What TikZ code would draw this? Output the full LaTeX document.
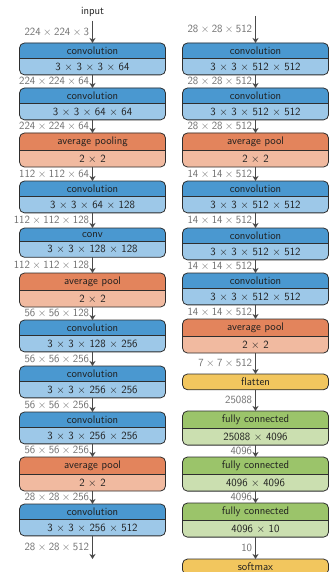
\documentclass[tikz,border=0pt]{standalone}
\usepackage{fontspec}
\usetikzlibrary{arrows.meta,backgrounds}
\definecolor{convH}{HTML}{4A98D0}
\definecolor{convB}{HTML}{9DC8E8}
\definecolor{poolH}{HTML}{E3845C}
\definecolor{poolB}{HTML}{F1BAA0}
\definecolor{fcH}{HTML}{9BC46A}
\definecolor{fcB}{HTML}{CBDFB0}
\definecolor{yel}{HTML}{F2C65E}
\definecolor{edgecol}{HTML}{2E2E2E}
\definecolor{lblcol}{HTML}{6E6E6E}
\definecolor{arrcol}{HTML}{4A4A4A}
\newcommand{\tm}{${}\times{}$}
\tikzset{
  part/.style={minimum width=146pt, inner xsep=0pt, inner ysep=3.95pt, outer sep=0pt,
    font=\fontsize{11}{13}\selectfont\sffamily, text=black!88},
  boxline/.style={draw=edgecol, line width=0.8pt},
  single/.style={part, boxline, rounded corners=5pt},
  lbl/.style={left, inner sep=3pt, font=\fontsize{11}{13}\selectfont\sffamily, text=lblcol},
  flow/.style={draw=arrcol, line width=0.8pt, -{Stealth[length=5pt,width=6pt,inset=1.5pt]}}
}
\newcommand{\blk}[7]{%
  \node[part, anchor=north] (#1h) at (#2,#3) {#4};
  \node[part, anchor=north] (#1) at (#1h.south) {#5};
  \begin{pgfonlayer}{background}
    \fill[#7, rounded corners=5pt] (#1h.north west) rectangle (#1.south east);
    \begin{scope}
      \clip (#1h.north west) rectangle (#1h.south east);
      \fill[#6, rounded corners=5pt] (#1h.north west) rectangle (#1.south east);
    \end{scope}
  \end{pgfonlayer}
  \draw[boxline, rounded corners=5pt] (#1h.north west) rectangle (#1.south east);
  \draw[boxline] (#1h.south west) -- (#1h.south east);
}
\begin{document}
\begin{tikzpicture}[x=1pt,y=-1pt]
\useasboundingbox (0,0) rectangle (329,572);
% left column
\node[part, text=black!88] (in) at (92.5,12) {input};
\blk{L1}{92.5}{43}{convolution}{3 $\times$ 3 $\times$ 3 $\times$ 64}{convH}{convB}
\blk{L2}{92.5}{88}{convolution}{3 $\times$ 3 $\times$ 64 $\times$ 64}{convH}{convB}
\blk{L3}{92.5}{133}{average pooling}{2 $\times$ 2}{poolH}{poolB}
\blk{L4}{92.5}{181}{convolution}{3 $\times$ 3 $\times$ 64 $\times$ 128}{convH}{convB}
\blk{L5}{92.5}{228}{conv}{3 $\times$ 3 $\times$ 128 $\times$ 128}{convH}{convB}
\blk{L6}{92.5}{273}{average pool}{2 $\times$ 2}{poolH}{poolB}
\blk{L7}{92.5}{320}{convolution}{3 $\times$ 3 $\times$ 128 $\times$ 256}{convH}{convB}
\blk{L8}{92.5}{366}{convolution}{3 $\times$ 3 $\times$ 256 $\times$ 256}{convH}{convB}
\blk{L9}{92.5}{412}{convolution}{3 $\times$ 3 $\times$ 256 $\times$ 256}{convH}{convB}
\blk{L10}{92.5}{457}{average pool}{2 $\times$ 2}{poolH}{poolB}
\blk{L11}{92.5}{504}{convolution}{3 $\times$ 3 $\times$ 256 $\times$ 512}{convH}{convB}
\coordinate (lout) at (92.5,559);
\draw[flow] (in.south) -- node[lbl]{224\tm224\tm3} (L1h.north);
\draw[flow] (L1.south) -- node[lbl]{224\tm224\tm64} (L2h.north);
\draw[flow] (L2.south) -- node[lbl]{224\tm224\tm64} (L3h.north);
\draw[flow] (L3.south) -- node[lbl]{112\tm112\tm64} (L4h.north);
\draw[flow] (L4.south) -- node[lbl]{112\tm112\tm128} (L5h.north);
\draw[flow] (L5.south) -- node[lbl]{112\tm112\tm128} (L6h.north);
\draw[flow] (L6.south) -- node[lbl]{56\tm56\tm128} (L7h.north);
\draw[flow] (L7.south) -- node[lbl]{56\tm56\tm256} (L8h.north);
\draw[flow] (L8.south) -- node[lbl]{56\tm56\tm256} (L9h.north);
\draw[flow] (L9.south) -- node[lbl]{56\tm56\tm256} (L10h.north);
\draw[flow] (L10.south) -- node[lbl]{28\tm28\tm256} (L11h.north);
\draw[flow] (L11.south) -- node[lbl]{28\tm28\tm512} (lout);
% right column
\coordinate (rin) at (255.5,16);
\blk{R1}{255.5}{43}{convolution}{3 $\times$ 3 $\times$ 512 $\times$ 512}{convH}{convB}
\blk{R2}{255.5}{88}{convolution}{3 $\times$ 3 $\times$ 512 $\times$ 512}{convH}{convB}
\blk{R3}{255.5}{133}{average pool}{2 $\times$ 2}{poolH}{poolB}
\blk{R4}{255.5}{181}{convolution}{3 $\times$ 3 $\times$ 512 $\times$ 512}{convH}{convB}
\blk{R5}{255.5}{228}{convolution}{3 $\times$ 3 $\times$ 512 $\times$ 512}{convH}{convB}
\blk{R6}{255.5}{273}{convolution}{3 $\times$ 3 $\times$ 512 $\times$ 512}{convH}{convB}
\blk{R7}{255.5}{319}{average pool}{2 $\times$ 2}{poolH}{poolB}
\node[single, fill=yel, anchor=north] (flat) at (255.5,374) {flatten};
\blk{R9}{255.5}{411}{fully connected}{25088 $\times$ 4096}{fcH}{fcB}
\blk{R10}{255.5}{457}{fully connected}{4096 $\times$ 4096}{fcH}{fcB}
\blk{R11}{255.5}{503}{fully connected}{4096 $\times$ 10}{fcH}{fcB}
\node[single, fill=yel, anchor=north] (soft) at (255.5,559) {softmax};
\draw[flow] (rin) -- node[lbl]{28\tm28\tm512} (R1h.north);
\draw[flow] (R1.south) -- node[lbl]{28\tm28\tm512} (R2h.north);
\draw[flow] (R2.south) -- node[lbl]{28\tm28\tm512} (R3h.north);
\draw[flow] (R3.south) -- node[lbl]{14\tm14\tm512} (R4h.north);
\draw[flow] (R4.south) -- node[lbl]{14\tm14\tm512} (R5h.north);
\draw[flow] (R5.south) -- node[lbl]{14\tm14\tm512} (R6h.north);
\draw[flow] (R6.south) -- node[lbl]{14\tm14\tm512} (R7h.north);
\draw[flow] (R7.south) -- node[lbl]{7\tm7\tm512} (flat.north);
\draw[flow] (flat.south) -- node[lbl]{25088} (R9h.north);
\draw[flow] (R9.south) -- node[lbl]{4096} (R10h.north);
\draw[flow] (R10.south) -- node[lbl]{4096} (R11h.north);
\draw[flow] (R11.south) -- node[lbl]{10} (soft.north);
\end{tikzpicture}
\end{document}
